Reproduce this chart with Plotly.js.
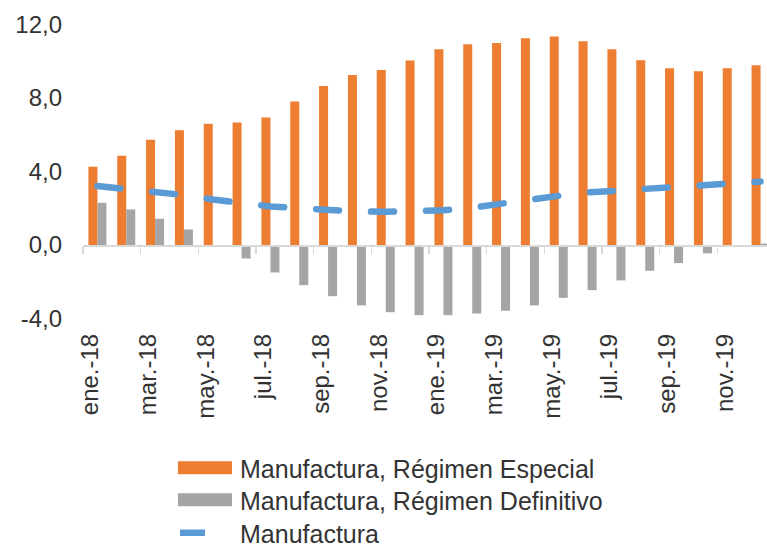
<!DOCTYPE html>
<html><head><meta charset="utf-8">
<script src="https://cdn.plot.ly/plotly-3.0.1.min.js"></script>
<style>
html,body{margin:0;padding:0;overflow:hidden;background:#fff}
#chart{width:780px;height:548px}
.scatterlayer .js-line{stroke-linecap:round}
</style></head><body><div id="chart"></div>
<script>
const months = ['ene.-18','feb.-18','mar.-18','abr.-18','may.-18','jun.-18','jul.-18','ago.-18','sep.-18','oct.-18','nov.-18','dic.-18',
                'ene.-19','feb.-19','mar.-19','abr.-19','may.-19','jun.-19','jul.-19','ago.-19','sep.-19','oct.-19','nov.-19','dic.-19'];
const especial = [4.26, 4.86, 5.73, 6.24, 6.59, 6.66, 6.93, 7.80, 8.65, 9.25, 9.52, 10.03,
                  10.65, 10.92, 10.99, 11.25, 11.34, 11.08, 10.65, 10.05, 9.62, 9.45, 9.62, 9.78];
const definitivo = [2.30, 1.94, 1.43, 0.85, 0.00, -0.73, -1.49, -2.18, -2.78, -3.28, -3.65, -3.81,
                    -3.81, -3.72, -3.57, -3.28, -2.87, -2.45, -1.92, -1.40, -0.98, -0.45, -0.09, 0.08];
const manufactura = [3.21, 3.04, 2.92, 2.72, 2.48, 2.29, 2.10, 2.00, 1.90, 1.83, 1.81, 1.82,
                     1.90, 2.03, 2.26, 2.51, 2.68, 2.86, 2.95, 3.03, 3.11, 3.24, 3.36, 3.45];
const names = ['Manufactura, Régimen Especial', 'Manufactura, Régimen Definitivo', 'Manufactura'];
const yTicks = [-4, 0, 4, 8, 12];
const xTickLabels = months.filter((m, i) => i % 2 === 0);
const boundaryTicks = months.map((m, i) => i - 0.5).filter((v, i) => i % 2 === 0);

const font = {family: 'Liberation Sans, Arial, sans-serif', size: 24, color: '#333333'};
const legFont = {family: 'Liberation Sans, Arial, sans-serif', size: 25, color: '#333333'};

const traces = [
  {type: 'bar', name: names[0], x: months, y: especial, marker: {color: '#ED7D31'}, hoverinfo: 'skip', legend: 'legend'},
  {type: 'bar', name: names[1], x: months, y: definitivo, marker: {color: '#A5A5A5'}, hoverinfo: 'skip', legend: 'legend2'},
  {type: 'scatter', mode: 'lines', name: names[2], x: months, y: manufactura, showlegend: false,
   line: {color: '#5B9BD5', width: 6.5, dash: '23px,32px'}, hoverinfo: 'skip'},
  // legend-only entry for the line: a single short dash
  {type: 'scatter', mode: 'lines', name: names[2], x: [null], y: [null], legend: 'legend3',
   line: {color: '#5B9BD5', width: 6.5, dash: '25px,400px'}, hoverinfo: 'skip'},
  {type: 'scatter', mode: 'lines', x: [null], y: [null], xaxis: 'x2', yaxis: 'y', showlegend: false, hoverinfo: 'skip'}
];

function leg(yc) {
  return {xref: 'container', yref: 'container', x: 175 / 780, y: 1 - yc / 548, xanchor: 'left', yanchor: 'middle',
          font: legFont, itemwidth: 55, bgcolor: 'rgba(0,0,0,0)', borderwidth: 0};
}

const yr = [-4.4, 12.4];
const layout = {
  width: 780, height: 548,
  margin: {l: 83, r: 5, t: 17, b: 222, autoexpand: false},
  paper_bgcolor: '#ffffff', plot_bgcolor: '#ffffff',
  font: font,
  barmode: 'group', bargap: 0.375, bargroupgap: 0,
  showlegend: true,
  legend: leg(468), legend2: leg(500), legend3: leg(533),
  xaxis: {type: 'category', range: [-0.5, 23.5], tickvals: xTickLabels, ticktext: xTickLabels, automargin: false,
          tickangle: -90, ticks: '', showline: false, showgrid: false, zeroline: false,
          tickfont: font, ticklabelshift: -7, ticklabelstandoff: 2},
  xaxis2: {type: 'linear', overlaying: 'x', anchor: 'free', position: (0 - yr[0]) / (yr[1] - yr[0]), automargin: false,
           range: [-0.5, 23.5], tickvals: boundaryTicks, ticks: 'outside', ticklen: 7, tickwidth: 1.5,
           tickcolor: '#D9D9D9', showticklabels: false, showline: true, linecolor: '#D9D9D9', linewidth: 1.5,
           showgrid: false, zeroline: false},
  yaxis: {range: yr, tickvals: yTicks, ticktext: yTicks.map(v => v.toFixed(1).replace('.', ',')), automargin: false,
          ticks: '', showgrid: false, zeroline: false, showline: false, tickfont: font, ticklabelstandoff: 20}
};

function fixLegend(gd) {
  gd.querySelectorAll('.legendpoints path').forEach(function (p) {
    var d = p.getAttribute('d') || '';
    if (d.indexOf('H') >= 0 && d.indexOf('V') >= 0 && d !== 'M3,-6.5H57V6.5H3Z') {
      // wide rectangle swatch for bar legend entries
      p.setAttribute('d', 'M3,-6.5H57V6.5H3Z');
      p.removeAttribute('transform');
    }
  });
}

Plotly.newPlot('chart', traces, layout, {staticPlot: true, displayModeBar: false}).then(function (gd) {
  fixLegend(gd);
  gd.on('plotly_afterplot', function () { fixLegend(gd); });
});
</script></body></html>
